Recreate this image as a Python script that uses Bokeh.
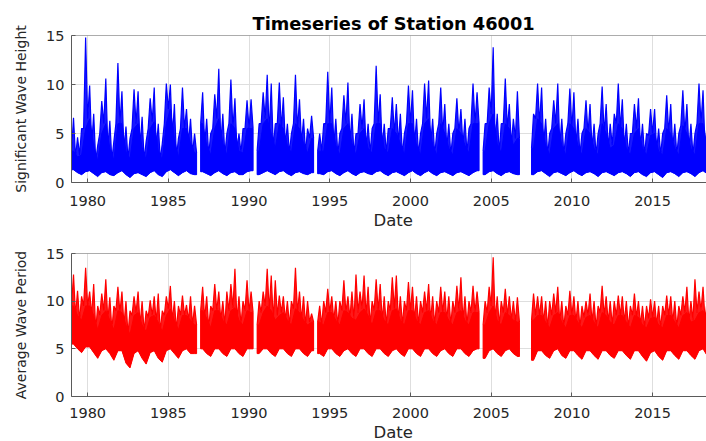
import numpy as np
from bokeh.plotting import figure
from bokeh.layouts import column
from bokeh.models import Span, FixedTicker, Title
from bokeh.embed import file_html
from bokeh.resources import INLINE

nan = float("nan")

# Quarterly summaries of buoy 46001 records, first quarter = 1979 Q1.
# peak: highest storm value in the quarter, core: top of the dense bulk of
# hourly values, low: bottom of the bulk.  nan marks quarters without data.
START_YEAR = 1979.0
QUARTER = 0.25

hs_peak = [
    6.6, 4.6, 5.5, 14.8,    # 1979
    9.9, 7.0, 3.8, 8.3,     # 1980
    10.6, 6.3, 4.2, 12.2,   # 1981
    9.3, 5.7, 4.5, 9.5,     # 1982
    9.3, 6.7, 4.2, 8.6,     # 1983
    9.7, 6.0, 4.0, 10.1,    # 1984
    10.0, 8.0, 4.5, 9.7,    # 1985
    7.5, 6.5, 5.0, nan,     # 1986
    9.2, 6.5, 5.0, 9.0,     # 1987
    11.6, 7.0, 5.0, 10.5,   # 1988
    8.6, 5.0, 5.5, 8.4,     # 1989
    8.5, nan, 6.0, 9.2,     # 1990
    11.0, 10.1, 6.0, 10.2,  # 1991
    8.7, 6.0, 5.0, 11.0,    # 1992
    8.5, 6.5, 5.5, 6.8,     # 1993
    nan, 5.0, 6.0, 11.3,    # 1994
    9.7, 6.5, 5.0, 8.9,     # 1995
    10.2, 7.0, 5.0, 8.0,    # 1996
    8.5, 6.0, 5.5, 11.9,    # 1997
    9.0, 6.0, 5.5, 8.7,     # 1998
    8.0, 7.0, 5.0, 9.9,     # 1999
    9.4, 6.5, 5.0, 10.1,    # 2000
    10.4, 6.5, 5.0, 9.7,    # 2001
    8.0, 6.0, 5.0, 8.6,     # 2002
    7.5, 6.5, 5.5, 10.1,    # 2003
    9.2, nan, 6.0, 9.7,     # 2004
    13.8, 7.0, 6.0, 10.6,   # 2005
    8.0, 6.5, 9.3, nan,     # 2006
    nan, nan, 7.0, 10.1,    # 2007
    9.7, 6.5, 5.0, 8.4,     # 2008
    10.1, 6.5, 5.0, 9.6,    # 2009
    9.2, 6.5, 5.0, 8.4,     # 2010
    8.0, 6.0, 5.0, 9.8,     # 2011
    8.0, 6.0, 7.0, 10.1,    # 2012
    8.5, 6.0, 5.0, 8.0,     # 2013
    8.6, 6.0, 5.0, 7.5,     # 2014
    7.5, 5.5, 5.0, 8.9,     # 2015
    8.0, 6.0, 5.0, 9.4,     # 2016
    8.0, 6.0, 5.0, 10.1,    # 2017
    9.4, 6.0,               # 2018
]

hs_core = [
    3.2, 2.6, 2.8, 5.5,     # 1979
    6.5, 3.8, 2.2, 5.0,     # 1980
    6.0, 3.5, 2.3, 6.0,     # 1981
    6.0, 3.2, 2.4, 5.5,     # 1982
    6.0, 3.6, 2.3, 5.5,     # 1983
    6.2, 3.3, 2.3, 6.0,     # 1984
    7.5, 4.5, 2.5, 5.5,     # 1985
    5.5, 4.0, 3.0, nan,     # 1986
    6.0, 3.8, 2.8, 5.5,     # 1987
    6.5, 4.0, 2.8, 6.0,     # 1988
    5.5, 3.2, 3.0, 5.5,     # 1989
    5.5, nan, 3.2, 6.0,     # 1990
    6.5, 5.0, 3.5, 6.0,     # 1991
    5.5, 3.8, 3.0, 6.0,     # 1992
    5.5, 4.0, 3.0, 4.5,     # 1993
    nan, 3.2, 3.2, 6.0,     # 1994
    6.0, 3.8, 2.8, 5.5,     # 1995
    6.0, 4.0, 2.8, 5.0,     # 1996
    5.5, 3.5, 3.0, 6.0,     # 1997
    6.0, 3.5, 3.0, 5.5,     # 1998
    5.0, 4.0, 2.8, 6.0,     # 1999
    6.0, 3.8, 2.8, 6.0,     # 2000
    6.5, 3.8, 2.8, 6.0,     # 2001
    5.0, 3.5, 2.8, 5.5,     # 2002
    5.0, 3.8, 3.0, 6.0,     # 2003
    6.0, nan, 3.2, 6.0,     # 2004
    7.0, 4.0, 3.0, 6.0,     # 2005
    5.5, 3.8, 4.5, nan,     # 2006
    nan, nan, 3.5, 6.5,     # 2007
    6.0, 3.8, 2.8, 5.5,     # 2008
    6.0, 3.8, 2.8, 6.0,     # 2009
    5.5, 3.8, 2.8, 5.5,     # 2010
    5.0, 3.5, 2.8, 6.0,     # 2011
    5.0, 3.5, 3.8, 6.0,     # 2012
    5.5, 3.5, 2.8, 5.0,     # 2013
    5.5, 3.5, 2.8, 4.8,     # 2014
    5.0, 3.2, 2.8, 5.5,     # 2015
    5.0, 3.5, 2.8, 5.8,     # 2016
    5.0, 3.5, 2.8, 6.0,     # 2017
    6.0, 3.5,               # 2018
]

hs_low = [
    1.3, 1.0, 0.8, 1.1,     # 1979
    1.2, 0.9, 0.6, 1.0,     # 1980
    1.1, 0.8, 0.7, 1.0,     # 1981
    1.2, 0.8, 0.5, 0.9,     # 1982
    1.0, 0.8, 0.6, 1.0,     # 1983
    1.2, 0.8, 0.6, 1.1,     # 1984
    1.3, 1.0, 0.7, 1.0,     # 1985
    1.2, 0.9, 0.8, nan,     # 1986
    1.1, 0.9, 0.7, 1.0,     # 1987
    1.2, 0.9, 0.7, 1.0,     # 1988
    1.1, 0.8, 0.8, 1.1,     # 1989
    1.2, nan, 0.8, 1.0,     # 1990
    1.2, 1.0, 0.8, 1.1,     # 1991
    1.2, 0.9, 0.7, 1.0,     # 1992
    1.1, 0.9, 0.8, 1.0,     # 1993
    nan, 0.9, 0.8, 1.1,     # 1994
    1.2, 0.9, 0.7, 1.0,     # 1995
    1.2, 0.9, 0.7, 1.0,     # 1996
    1.1, 0.9, 0.8, 1.1,     # 1997
    1.2, 0.9, 0.7, 1.0,     # 1998
    1.1, 0.9, 0.7, 1.0,     # 1999
    1.2, 0.9, 0.7, 1.0,     # 2000
    1.2, 0.9, 0.7, 1.0,     # 2001
    1.1, 0.9, 0.7, 1.0,     # 2002
    1.1, 0.9, 0.7, 1.0,     # 2003
    1.2, nan, 0.8, 1.1,     # 2004
    1.2, 0.9, 0.7, 1.0,     # 2005
    1.1, 0.9, 0.8, nan,     # 2006
    nan, nan, 0.8, 1.1,     # 2007
    1.2, 0.9, 0.6, 1.0,     # 2008
    1.1, 0.9, 0.7, 1.0,     # 2009
    1.2, 0.9, 0.7, 1.0,     # 2010
    1.1, 0.9, 0.6, 1.0,     # 2011
    1.1, 0.9, 0.7, 1.0,     # 2012
    1.1, 0.9, 0.6, 1.0,     # 2013
    1.1, 0.8, 0.6, 1.0,     # 2014
    1.1, 0.8, 0.5, 1.0,     # 2015
    1.1, 0.9, 0.6, 1.0,     # 2016
    1.1, 0.9, 0.6, 1.0,     # 2017
    1.2, 0.9,               # 2018
]

tp_peak = [
    12.8, 11.1, 10.5, 13.5,  # 1979
    11.0, 11.8, 9.5, 10.8,   # 1980
    12.3, 10.4, 9.5, 11.5,   # 1981
    11.0, 10.0, 9.0, 10.5,   # 1982
    11.0, 10.0, 9.0, 10.1,   # 1983
    10.5, 10.8, 9.0, 10.5,   # 1984
    11.6, 10.0, 9.5, 10.6,   # 1985
    9.6, 10.5, 9.5, nan,     # 1986
    11.5, 10.5, 9.5, 11.8,   # 1987
    11.0, 10.0, 11.0, 11.8,  # 1988
    13.4, 10.5, 10.0, 12.2,  # 1989
    11.0, nan, 10.0, 11.0,   # 1990
    13.4, 12.7, 12.2, 10.6,  # 1991
    10.5, 10.0, 10.0, 13.5,  # 1992
    11.0, 10.5, 10.0, 8.7,   # 1993
    nan, 9.5, 10.0, 11.3,    # 1994
    10.5, 10.0, 10.0, 12.2,  # 1995
    10.5, 11.0, 12.8, 11.0,  # 1996
    12.7, 11.5, 10.0, 12.3,  # 1997
    11.8, 10.5, 10.0, 12.5,  # 1998
    12.7, 10.5, 10.0, 12.0,  # 1999
    11.5, 10.5, 10.0, 11.0,  # 2000
    11.8, 10.5, 10.0, 11.5,  # 2001
    11.0, 10.5, 10.0, 11.6,  # 2002
    12.5, 10.5, 10.0, 11.6,  # 2003
    11.0, nan, 10.0, 11.5,   # 2004
    14.6, 10.5, 10.0, 11.3,  # 2005
    10.5, 10.0, 10.4, nan,   # 2006
    nan, nan, 10.8, 10.5,    # 2007
    10.5, 10.0, 10.0, 10.8,  # 2008
    11.5, 10.0, 9.5, 11.1,   # 2009
    10.5, 10.0, 9.5, 10.0,   # 2010
    10.8, 10.0, 9.5, 11.6,   # 2011
    10.5, 10.0, 10.0, 10.6,  # 2012
    10.5, 10.0, 9.5, 10.8,   # 2013
    10.0, 9.5, 9.5, 10.2,    # 2014
    10.0, 9.5, 9.5, 10.6,    # 2015
    10.5, 10.0, 9.5, 10.5,   # 2016
    11.5, 10.0, 12.3, 11.0,  # 2017
    11.5, 10.0,              # 2018
]

tp_core = [
    9.5, 8.5, 8.0, 9.5,      # 1979
    9.5, 8.5, 7.0, 8.5,      # 1980
    9.0, 8.0, 7.0, 9.0,      # 1981
    8.8, 7.5, 6.5, 8.5,      # 1982
    8.8, 7.5, 6.8, 8.3,      # 1983
    8.5, 7.8, 6.8, 8.5,      # 1984
    9.2, 8.0, 7.0, 8.5,      # 1985
    8.5, 8.0, 7.5, nan,      # 1986
    9.0, 8.2, 7.2, 9.0,      # 1987
    9.0, 8.0, 7.5, 9.0,      # 1988
    9.3, 8.0, 7.5, 9.0,      # 1989
    8.8, nan, 7.5, 8.8,      # 1990
    9.5, 9.0, 8.0, 8.5,      # 1991
    8.8, 8.0, 7.5, 9.2,      # 1992
    8.8, 8.0, 7.5, 7.8,      # 1993
    nan, 7.8, 7.5, 8.8,      # 1994
    8.8, 8.0, 7.5, 9.0,      # 1995
    8.8, 8.2, 8.0, 8.8,      # 1996
    9.2, 8.5, 7.5, 9.0,      # 1997
    9.0, 8.0, 7.5, 9.0,      # 1998
    9.2, 8.0, 7.5, 9.0,      # 1999
    9.0, 8.0, 7.5, 8.8,      # 2000
    9.0, 8.0, 7.5, 8.8,      # 2001
    8.8, 8.0, 7.5, 8.8,      # 2002
    9.0, 8.0, 7.5, 8.8,      # 2003
    8.8, nan, 7.5, 8.8,      # 2004
    9.5, 8.0, 7.5, 8.8,      # 2005
    8.5, 8.0, 7.8, nan,      # 2006
    nan, nan, 8.0, 8.5,      # 2007
    8.5, 7.8, 7.2, 8.5,      # 2008
    8.8, 7.8, 7.2, 8.5,      # 2009
    8.5, 7.8, 7.2, 8.3,      # 2010
    8.5, 7.8, 7.2, 8.8,      # 2011
    8.5, 7.8, 7.5, 8.5,      # 2012
    8.5, 7.8, 7.2, 8.5,      # 2013
    8.3, 7.5, 7.2, 8.2,      # 2014
    8.3, 7.5, 7.2, 8.5,      # 2015
    8.5, 7.8, 7.2, 8.5,      # 2016
    8.8, 7.8, 8.0, 8.8,      # 2017
    9.0, 8.0,                # 2018
]

tp_low = [
    5.5, 5.0, 4.6, 5.2,      # 1979
    5.2, 4.6, 4.0, 4.8,      # 1980
    5.0, 4.5, 3.8, 4.8,      # 1981
    4.8, 3.5, 3.0, 4.5,      # 1982
    4.8, 4.0, 3.4, 4.6,      # 1983
    4.8, 4.0, 3.6, 4.8,      # 1984
    5.0, 4.5, 4.0, 4.8,      # 1985
    5.0, 4.5, 4.5, nan,      # 1986
    5.0, 4.5, 4.2, 5.0,      # 1987
    5.0, 4.5, 4.2, 5.0,      # 1988
    5.0, 4.5, 4.2, 5.0,      # 1989
    5.0, nan, 4.5, 5.0,      # 1990
    5.0, 4.5, 4.2, 5.0,      # 1991
    5.0, 4.5, 4.2, 5.0,      # 1992
    5.0, 4.5, 4.2, 4.8,      # 1993
    nan, 4.5, 4.2, 5.0,      # 1994
    5.0, 4.5, 4.2, 4.8,      # 1995
    5.0, 4.5, 4.2, 5.0,      # 1996
    5.0, 4.5, 4.2, 5.0,      # 1997
    5.0, 4.5, 4.2, 4.8,      # 1998
    5.0, 4.5, 4.2, 5.0,      # 1999
    5.0, 4.5, 4.2, 5.0,      # 2000
    5.0, 4.5, 4.2, 4.8,      # 2001
    5.0, 4.5, 4.2, 5.0,      # 2002
    5.0, 4.5, 4.2, 4.8,      # 2003
    5.0, nan, 4.0, 4.8,      # 2004
    5.0, 4.5, 4.2, 4.8,      # 2005
    5.0, 4.5, 4.2, nan,      # 2006
    nan, nan, 3.8, 4.8,      # 2007
    4.8, 4.3, 4.0, 4.8,      # 2008
    5.0, 4.3, 4.0, 4.8,      # 2009
    4.8, 4.3, 3.9, 4.8,      # 2010
    4.8, 4.3, 3.9, 4.8,      # 2011
    4.8, 4.3, 4.0, 4.8,      # 2012
    4.8, 4.3, 3.9, 4.8,      # 2013
    4.8, 4.2, 3.7, 4.6,      # 2014
    4.8, 4.2, 3.8, 4.8,      # 2015
    4.8, 4.3, 3.9, 4.8,      # 2016
    4.8, 4.3, 3.9, 4.8,      # 2017
    5.0, 4.3,                # 2018
]

x_ticks = [1980, 1985, 1990, 1995, 2000, 2005, 2010, 2015]
y_ticks = [0, 5, 10, 15]
x_span = (1979.0, 2018.34)
y_span = (0, 15)

FONT = "DejaVu Sans"
TEXT = "#262626"
AXIS = "#5a5a5a"
GRID = "#dedede"


def continuous_runs(*arrays):
    """Index groups of consecutive quarters that hold data."""
    ok = np.all([~np.isnan(np.asarray(a, float)) for a in arrays], axis=0)
    idx = np.flatnonzero(ok)
    if idx.size == 0:
        return []
    cuts = np.flatnonzero(np.diff(idx) > 1) + 1
    return np.split(idx, cuts)


def draw_series(p, peak, core, low, color):
    peak = np.asarray(peak, float)
    core = np.asarray(core, float)
    low = np.asarray(low, float)
    t = START_YEAR + QUARTER * np.arange(len(peak))

    band_xs, band_ys, spike_xs, spike_ys, fill_xs, fill_ys = [], [], [], [], [], []
    for r in continuous_runs(peak, core, low):
        ts = t[r]
        mid = ts + QUARTER / 2
        end = ts[-1] + QUARTER
        c, lo, pk = core[r], low[r], peak[r]

        # dense bulk between the floor and the core top
        edge_x = np.concatenate([[ts[0]], mid, [end]])
        top_y = np.concatenate([[c[0]], c, [c[-1]]])
        bot_y = np.concatenate([[lo[0]], lo, [lo[-1]]])
        band_xs.append(np.concatenate([edge_x, edge_x[::-1]]))
        band_ys.append(np.concatenate([top_y, bot_y[::-1]]))

        # storm spikes: up from the core to each quarter's peak and back down
        n = len(r)
        zx = np.empty(2 * n + 1)
        zy = np.empty(2 * n + 1)
        zx[0:-1:2], zy[0:-1:2] = ts, c
        zx[1::2], zy[1::2] = mid, pk
        zx[-1], zy[-1] = end, c[-1]
        spike_xs.append(zx)
        spike_ys.append(zy)
        fill_xs.append(np.concatenate([zx, edge_x[::-1]]))
        fill_ys.append(np.concatenate([zy, bot_y[::-1]]))

    p.patches(fill_xs, fill_ys, fill_color=color, fill_alpha=0.9, line_color=None)
    p.multi_line(spike_xs, spike_ys, line_color=color, line_width=1.2)
    p.patches(band_xs, band_ys, fill_color=color, line_color=color, line_width=1)


def make_panel(height, border_top, border_bottom, ylabel, tick_gap, date_gap):
    p = figure(width=706, height=height, x_range=x_span, y_range=y_span,
               output_backend="svg", toolbar_location=None,
               min_border_left=71, min_border_right=0,
               min_border_top=border_top, min_border_bottom=border_bottom)
    p.outline_line_color = None
    p.background_fill_color = "white"
    p.border_fill_color = "white"

    p.xaxis.ticker = FixedTicker(ticks=x_ticks)
    p.yaxis.ticker = FixedTicker(ticks=y_ticks)
    p.xgrid.ticker = FixedTicker(ticks=x_ticks)
    p.ygrid.ticker = FixedTicker(ticks=y_ticks)
    p.xgrid.grid_line_color = GRID
    p.ygrid.grid_line_color = GRID

    for ax in (p.xaxis[0], p.yaxis[0]):
        ax.axis_line_color = AXIS
        ax.axis_line_width = 1
        ax.major_tick_line_color = AXIS
        ax.major_tick_in = 4
        ax.major_tick_out = 0
        ax.minor_tick_in = 0
        ax.minor_tick_out = 0
        ax.major_label_text_font = FONT
        ax.major_label_text_font_size = "14.5px"
        ax.major_label_text_color = TEXT
        ax.axis_label_text_font = FONT
        ax.axis_label_text_font_style = "normal"
        ax.axis_label_text_color = TEXT

    p.xaxis.major_label_standoff = tick_gap

    p.yaxis.axis_label = ylabel
    p.yaxis.axis_label_text_font_size = "14px"
    p.yaxis.major_label_standoff = 7
    p.yaxis.axis_label_standoff = 14

    # "Date" caption under the tick labels, centred on the full time axis
    p.add_layout(Title(text="Date", align="left", offset=302, standoff=date_gap,
                       text_font=FONT, text_font_size="16.5px",
                       text_font_style="normal", text_color=TEXT), "below")

    # closing line along the top of the box
    p.add_layout(Span(location=y_span[1], dimension="width",
                      line_color=AXIS, line_width=1))
    return p


p1 = make_panel(240, 35, 58, "Significant Wave Height", 13, 0)
p1.title.text = "Timeseries of Station 46001"
p1.title.text_font = FONT
p1.title.text_font_style = "bold"
p1.title.text_font_size = "17.8px"
p1.title.text_color = "black"
p1.title.align = "left"
p1.title.offset = 181
p1.title.standoff = 3
draw_series(p1, hs_peak, hs_core, hs_low, "#0000ff")

p2 = make_panel(201, 13, 43, "Average Wave Period", 11, 0)
draw_series(p2, tp_peak, tp_core, tp_low, "#ff0000")

layout = column(p1, p2, spacing=0)
open("out.html", "w").write(file_html(layout, INLINE))
